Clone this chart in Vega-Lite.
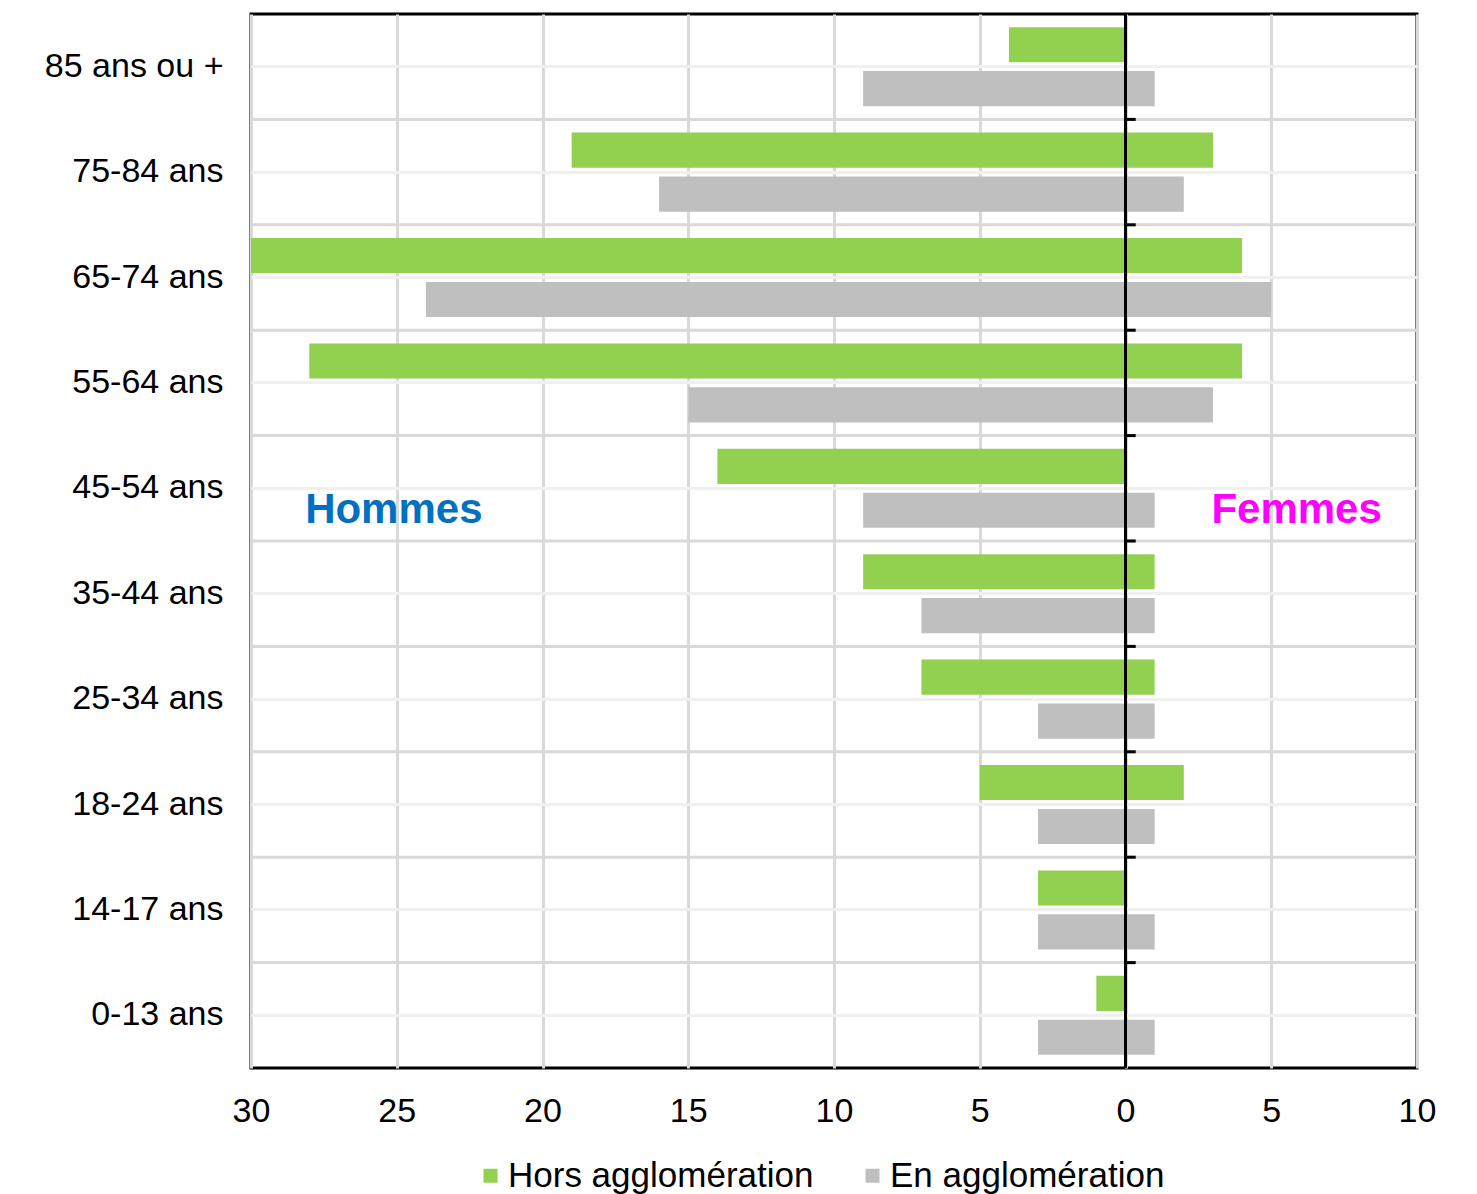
{
  "$schema": "https://vega.github.io/schema/vega-lite/v6.json",
  "width": 1166,
  "height": 1054,
  "autosize": {"type": "none"},
  "padding": {"left": 251, "top": 14, "right": 60, "bottom": 126},
  "background": "white",
  "config": {
    "font": "Liberation Sans",
    "view": {"stroke": "black", "strokeWidth": 3},
    "axis": {"labelFont": "Liberation Sans", "labelColor": "#000000", "labelFontSize": 34, "ticks": false, "domain": false},
    "legend": {"labelLimit": 600}
  },
  "data": {
    "values": [
      {"age": "85 ans ou +", "serie": "Hors agglomération", "sexe": "Hommes", "value": -4},
      {"age": "85 ans ou +", "serie": "En agglomération", "sexe": "Hommes", "value": -9},
      {"age": "75-84 ans", "serie": "Hors agglomération", "sexe": "Hommes", "value": -19},
      {"age": "75-84 ans", "serie": "En agglomération", "sexe": "Hommes", "value": -16},
      {"age": "65-74 ans", "serie": "Hors agglomération", "sexe": "Hommes", "value": -30},
      {"age": "65-74 ans", "serie": "En agglomération", "sexe": "Hommes", "value": -24},
      {"age": "55-64 ans", "serie": "Hors agglomération", "sexe": "Hommes", "value": -28},
      {"age": "55-64 ans", "serie": "En agglomération", "sexe": "Hommes", "value": -15},
      {"age": "45-54 ans", "serie": "Hors agglomération", "sexe": "Hommes", "value": -14},
      {"age": "45-54 ans", "serie": "En agglomération", "sexe": "Hommes", "value": -9},
      {"age": "35-44 ans", "serie": "Hors agglomération", "sexe": "Hommes", "value": -9},
      {"age": "35-44 ans", "serie": "En agglomération", "sexe": "Hommes", "value": -7},
      {"age": "25-34 ans", "serie": "Hors agglomération", "sexe": "Hommes", "value": -7},
      {"age": "25-34 ans", "serie": "En agglomération", "sexe": "Hommes", "value": -3},
      {"age": "18-24 ans", "serie": "Hors agglomération", "sexe": "Hommes", "value": -5},
      {"age": "18-24 ans", "serie": "En agglomération", "sexe": "Hommes", "value": -3},
      {"age": "14-17 ans", "serie": "Hors agglomération", "sexe": "Hommes", "value": -3},
      {"age": "14-17 ans", "serie": "En agglomération", "sexe": "Hommes", "value": -3},
      {"age": "0-13 ans", "serie": "Hors agglomération", "sexe": "Hommes", "value": -1},
      {"age": "0-13 ans", "serie": "En agglomération", "sexe": "Hommes", "value": -3},
      {"age": "85 ans ou +", "serie": "Hors agglomération", "sexe": "Femmes", "value": 0},
      {"age": "85 ans ou +", "serie": "En agglomération", "sexe": "Femmes", "value": 1},
      {"age": "75-84 ans", "serie": "Hors agglomération", "sexe": "Femmes", "value": 3},
      {"age": "75-84 ans", "serie": "En agglomération", "sexe": "Femmes", "value": 2},
      {"age": "65-74 ans", "serie": "Hors agglomération", "sexe": "Femmes", "value": 4},
      {"age": "65-74 ans", "serie": "En agglomération", "sexe": "Femmes", "value": 5},
      {"age": "55-64 ans", "serie": "Hors agglomération", "sexe": "Femmes", "value": 4},
      {"age": "55-64 ans", "serie": "En agglomération", "sexe": "Femmes", "value": 3},
      {"age": "45-54 ans", "serie": "Hors agglomération", "sexe": "Femmes", "value": 0},
      {"age": "45-54 ans", "serie": "En agglomération", "sexe": "Femmes", "value": 1},
      {"age": "35-44 ans", "serie": "Hors agglomération", "sexe": "Femmes", "value": 1},
      {"age": "35-44 ans", "serie": "En agglomération", "sexe": "Femmes", "value": 1},
      {"age": "25-34 ans", "serie": "Hors agglomération", "sexe": "Femmes", "value": 1},
      {"age": "25-34 ans", "serie": "En agglomération", "sexe": "Femmes", "value": 1},
      {"age": "18-24 ans", "serie": "Hors agglomération", "sexe": "Femmes", "value": 2},
      {"age": "18-24 ans", "serie": "En agglomération", "sexe": "Femmes", "value": 1},
      {"age": "14-17 ans", "serie": "Hors agglomération", "sexe": "Femmes", "value": 0},
      {"age": "14-17 ans", "serie": "En agglomération", "sexe": "Femmes", "value": 1},
      {"age": "0-13 ans", "serie": "Hors agglomération", "sexe": "Femmes", "value": 0},
      {"age": "0-13 ans", "serie": "En agglomération", "sexe": "Femmes", "value": 1}
    ]
  },
  "layer": [
    {
      "transform": [{"filter": "datum.serie == 'Hors agglomération' && datum.sexe == 'Femmes' && datum.age != '85 ans ou +'"}],
      "mark": {"type": "rule", "color": "#d9d9d9", "strokeWidth": 3},
      "encoding": {
        "y": {"field": "age", "type": "nominal", "bandPosition": 0, "title": null,
              "scale": {"domain": ["85 ans ou +", "75-84 ans", "65-74 ans", "55-64 ans", "45-54 ans", "35-44 ans", "25-34 ans", "18-24 ans", "14-17 ans", "0-13 ans"], "paddingInner": 0, "paddingOuter": 0}}
      }
    },
    {
      "mark": {"type": "bar"},
      "encoding": {
        "x": {"field": "value", "type": "quantitative", "title": null,
              "scale": {"domain": [-30, 10], "nice": false},
              "axis": {"values": [-30, -25, -20, -15, -10, -5, 0, 5, 10], "labelExpr": "abs(datum.value)", "labelFlush": false, "grid": true, "gridColor": "#d9d9d9", "gridWidth": 3, "labelPadding": 26, "labelFontSize": 34}},
        "y": {"field": "age", "type": "nominal", "title": null,
              "scale": {"domain": ["85 ans ou +", "75-84 ans", "65-74 ans", "55-64 ans", "45-54 ans", "35-44 ans", "25-34 ans", "18-24 ans", "14-17 ans", "0-13 ans"], "paddingInner": 0, "paddingOuter": 0},
              "axis": {"grid": true, "gridColor": "#f0f0f0", "gridWidth": 3, "bandPosition": 0.5, "labelPadding": 28, "labelFontSize": 34, "labelLimit": 400}},
        "yOffset": {"field": "serie", "type": "nominal",
              "scale": {"domain": ["Hors agglomération", "En agglomération"], "paddingInner": 0.2, "paddingOuter": 0.3}},
        "color": {"field": "serie", "type": "nominal", "title": null,
              "scale": {"domain": ["Hors agglomération", "En agglomération"], "range": ["#92d050", "#bfbfbf"]},
              "legend": {"orient": "none", "legendX": 222, "legendY": 1144, "direction": "horizontal", "symbolType": "square", "symbolSize": 196, "symbolStrokeWidth": 0, "labelFontSize": 35, "labelColor": "#000000", "labelOffset": 0, "columnPadding": 41, "labelFont": "Liberation Sans"}}
      }
    },
    {
      "data": {"values": [{}]},
      "mark": {"type": "rule", "color": "black", "strokeWidth": 3},
      "encoding": {"x": {"datum": 0, "scale": {"domain": [-30, 10], "nice": false}}}
    },
    {
      "transform": [{"filter": "datum.serie == 'Hors agglomération' && datum.sexe == 'Femmes' && datum.age != '85 ans ou +'"}],
      "mark": {"type": "rule", "color": "black", "strokeWidth": 3},
      "encoding": {
        "x": {"datum": 0, "scale": {"domain": [-30, 10], "nice": false}},
        "x2": {"datum": 0.35},
        "y": {"field": "age", "type": "nominal", "bandPosition": 0, "title": null,
              "scale": {"domain": ["85 ans ou +", "75-84 ans", "65-74 ans", "55-64 ans", "45-54 ans", "35-44 ans", "25-34 ans", "18-24 ans", "14-17 ans", "0-13 ans"], "paddingInner": 0, "paddingOuter": 0}}
      }
    },
    {
      "data": {"values": [{"label": "Hommes", "pos": -25.1, "col": "#0070c0"}, {"label": "Femmes", "pos": 5.87, "col": "#ff00ff"}]},
      "mark": {"type": "text", "font": "Liberation Sans", "fontWeight": "bold", "fontSize": 42, "align": "center", "baseline": "alphabetic", "dy": 35},
      "encoding": {
        "x": {"field": "pos", "type": "quantitative", "scale": {"domain": [-30, 10], "nice": false}},
        "y": {"datum": "45-54 ans", "scale": {"domain": ["85 ans ou +", "75-84 ans", "65-74 ans", "55-64 ans", "45-54 ans", "35-44 ans", "25-34 ans", "18-24 ans", "14-17 ans", "0-13 ans"], "paddingInner": 0, "paddingOuter": 0}},
        "text": {"field": "label"},
        "color": {"field": "col", "type": "nominal", "scale": null}
      }
    }
  ]
}
